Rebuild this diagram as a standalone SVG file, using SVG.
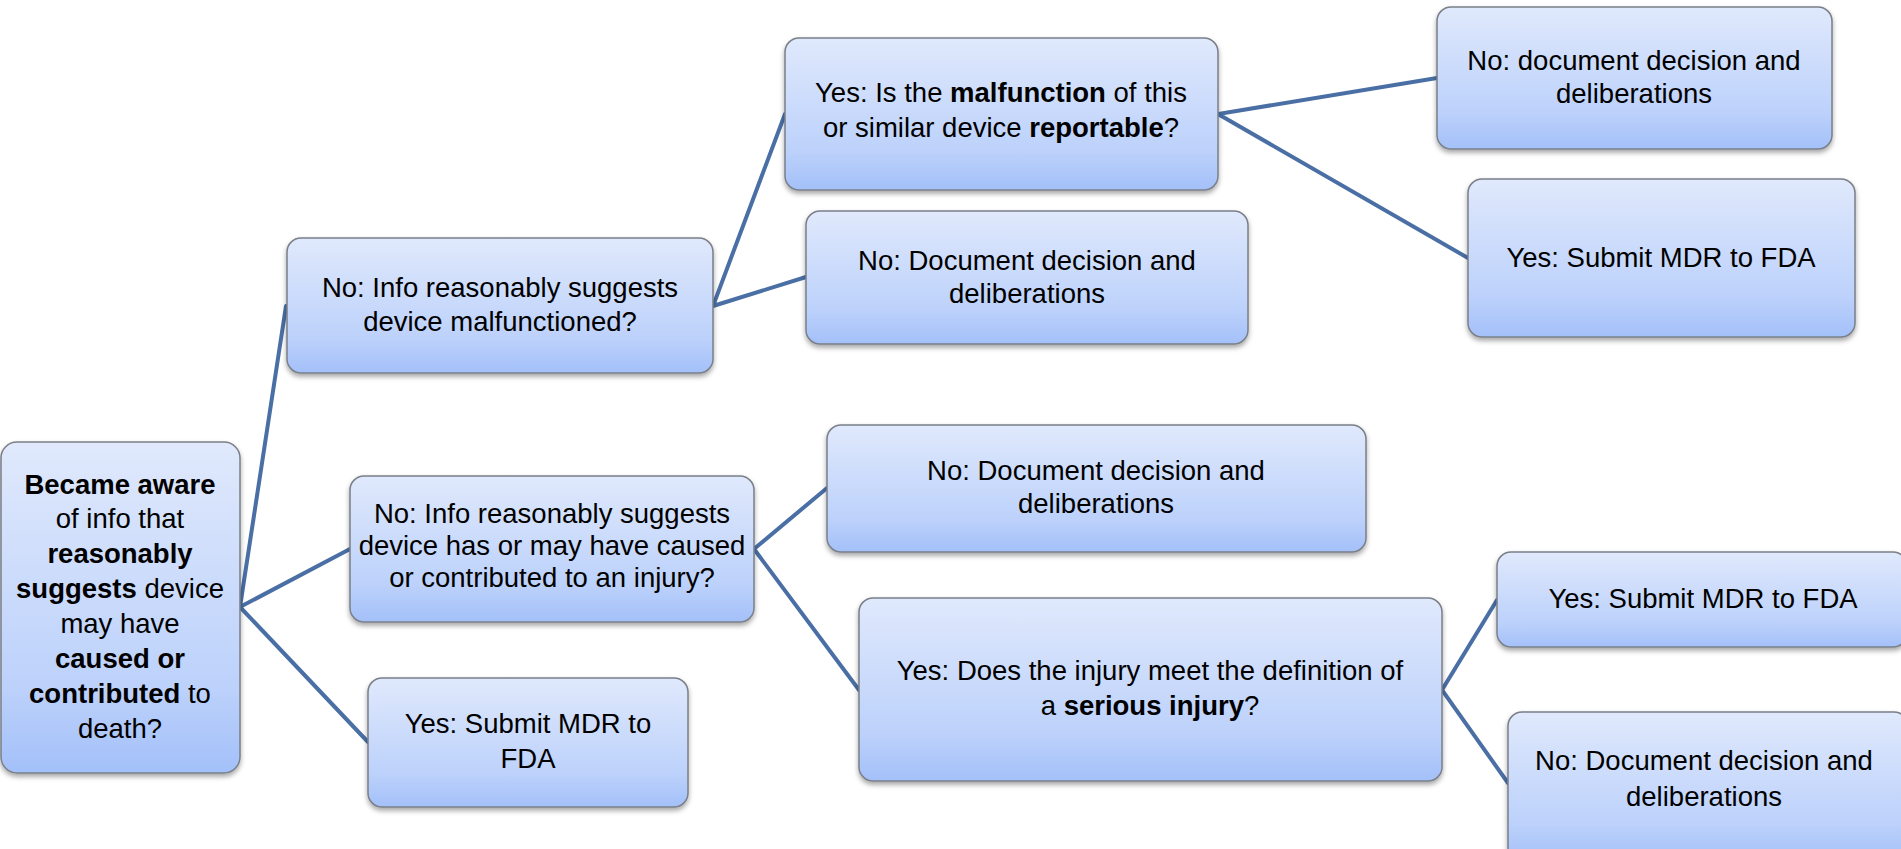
<svg xmlns="http://www.w3.org/2000/svg" width="1901" height="849" viewBox="0 0 1901 849">
<style>
.box{fill:url(#g);stroke:#7a7f88;stroke-width:1.5;filter:url(#sh)}
.t{font-family:"Liberation Sans",Arial,sans-serif;font-size:27.5px;fill:#000;text-anchor:middle}
.b{font-weight:bold}
.c{fill:none;stroke:#4a6fa5;stroke-width:4;stroke-linecap:round}
</style>
<defs>
<linearGradient id="g" x1="0" y1="0" x2="0" y2="1">
<stop offset="0" stop-color="#e0e9fc"/>
<stop offset="0.75" stop-color="#bcd1fb"/>
<stop offset="1" stop-color="#a3c0f9"/>
</linearGradient>
<filter id="sh" x="-10%" y="-10%" width="120%" height="130%">
<feDropShadow dx="0" dy="3" stdDeviation="2.5" flood-color="#000" flood-opacity="0.35"/>
</filter>
</defs>
<g id="connectors">
<polyline class="c" points="286,306 240,607 350,549"/>
<line class="c" x1="240" y1="607" x2="368" y2="742"/>
<polyline class="c" points="785,114 713,306 806,277"/>
<polyline class="c" points="1437,78 1218,114 1468,258"/>
<polyline class="c" points="827,488 754,549 859,690"/>
<polyline class="c" points="1497,600 1442,690 1508,783"/>
</g>
<g id="root">
<rect class="box" x="1" y="442" width="239" height="331" rx="16"/>
<text class="t"><tspan x="120" y="494" class="b">Became aware</tspan><tspan x="120" y="528">of info that</tspan><tspan x="120" y="563" class="b">reasonably</tspan><tspan x="120" y="598"><tspan class="b">suggests</tspan> device</tspan><tspan x="120" y="633">may have</tspan><tspan x="120" y="668" class="b">caused or</tspan><tspan x="120" y="703"><tspan class="b">contributed</tspan> to</tspan><tspan x="120" y="738">death?</tspan></text>
</g>
<g id="malfunction">
<rect class="box" x="287" y="238" width="426" height="135" rx="14"/>
<text class="t"><tspan x="500" y="297">No: Info reasonably suggests</tspan><tspan x="500" y="331">device malfunctioned?</tspan></text>
</g>
<g id="reportable">
<rect class="box" x="785" y="38" width="433" height="152" rx="14"/>
<text class="t"><tspan x="1001" y="102">Yes: Is the <tspan class="b">malfunction</tspan> of this</tspan><tspan x="1001" y="137">or similar device <tspan class="b">reportable</tspan>?</tspan></text>
</g>
<g id="doc1">
<rect class="box" x="1437" y="7" width="395" height="142" rx="14"/>
<text class="t"><tspan x="1634" y="70">No: document decision and</tspan><tspan x="1634" y="103">deliberations</tspan></text>
</g>
<g id="mdr1">
<rect class="box" x="1468" y="179" width="387" height="158" rx="14"/>
<text class="t"><tspan x="1661" y="267">Yes: Submit MDR to FDA</tspan></text>
</g>
<g id="doc2">
<rect class="box" x="806" y="211" width="442" height="133" rx="14"/>
<text class="t"><tspan x="1027" y="270">No: Document decision and</tspan><tspan x="1027" y="303">deliberations</tspan></text>
</g>
<g id="injury">
<rect class="box" x="350" y="476" width="404" height="146" rx="14"/>
<text class="t"><tspan x="552" y="523">No: Info reasonably suggests</tspan><tspan x="552" y="555">device has or may have caused</tspan><tspan x="552" y="587">or contributed to an injury?</tspan></text>
</g>
<g id="mdr2">
<rect class="box" x="368" y="678" width="320" height="129" rx="14"/>
<text class="t"><tspan x="528" y="733">Yes: Submit MDR to</tspan><tspan x="528" y="768">FDA</tspan></text>
</g>
<g id="doc3">
<rect class="box" x="827" y="425" width="539" height="127" rx="14"/>
<text class="t"><tspan x="1096" y="480">No: Document decision and</tspan><tspan x="1096" y="513">deliberations</tspan></text>
</g>
<g id="serious">
<rect class="box" x="859" y="598" width="583" height="183" rx="14"/>
<text class="t"><tspan x="1150" y="680">Yes: Does the injury meet the definition of</tspan><tspan x="1150" y="715">a <tspan class="b">serious injury</tspan>?</tspan></text>
</g>
<g id="mdr3">
<rect class="box" x="1497" y="552" width="410" height="95" rx="14"/>
<text class="t"><tspan x="1703" y="608">Yes: Submit MDR to FDA</tspan></text>
</g>
<g id="doc4">
<rect class="box" x="1508" y="712" width="400" height="150" rx="14"/>
<text class="t"><tspan x="1704" y="770">No: Document decision and</tspan><tspan x="1704" y="806">deliberations</tspan></text>
</g>
</svg>
